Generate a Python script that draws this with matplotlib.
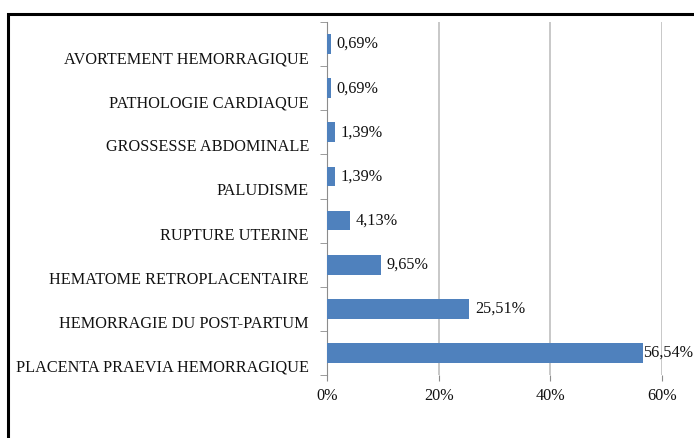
import matplotlib
matplotlib.use("Agg")
import matplotlib.pyplot as plt
import matplotlib.transforms as mtransforms
from matplotlib.patches import Rectangle
import numpy as np

# --- data (top to bottom as drawn) ---------------------------------------
causes = [
    "AVORTEMENT HEMORRAGIQUE",
    "PATHOLOGIE CARDIAQUE",
    "GROSSESSE ABDOMINALE",
    "PALUDISME",
    "RUPTURE UTERINE",
    "HEMATOME RETROPLACENTAIRE",
    "HEMORRAGIE DU POST-PARTUM",
    "PLACENTA PRAEVIA HEMORRAGIQUE",
]
percent = [0.69, 0.69, 1.39, 1.39, 4.13, 9.65, 25.51, 56.54]
value_labels = ["0,69%", "0,69%", "1,39%", "1,39%", "4,13%", "9,65%", "25,51%", "56,54%"]
x_ticks = [0, 20, 40, 60]
x_ticklabels = ["0%", "20%", "40%", "60%"]

BAR_COLOR = "#4F81BD"
GRID_COLOR = "#BFBFBF"
TEXT_COLOR = "#111111"
FS = 11.7

plt.rcParams["font.family"] = ["Liberation Serif", "DejaVu Serif"]

fig = plt.figure(figsize=(6.94, 4.38), dpi=100)
ax = fig.add_axes([327 / 694, 1 - 375 / 438, (662 - 327) / 694, (375 - 22) / 438])

n = len(causes)
y = np.arange(n)  # 0 at top, inverted below
ax.barh(y, percent, height=0.45, color=BAR_COLOR, zorder=3)

for yi, v, lab in zip(y, percent, value_labels):
    pad = 0 if v > 50 else 6   # the long bar's label sits flush against its end
    ax.annotate(lab, (v, yi), xytext=(pad, 0), textcoords="offset pixels",
                va="center", ha="left", fontsize=FS, color=TEXT_COLOR)

ax.set_xlim(0, 60)
ax.set_ylim(n - 0.5, -0.5)
ax.set_xticks(x_ticks)
ax.set_xticklabels(x_ticklabels, fontsize=FS, color=TEXT_COLOR)
ax.xaxis.grid(True, color=GRID_COLOR, lw=1.2, zorder=0)
ax.tick_params(axis="x", length=4, color="#8C8C8C", pad=5)

# category labels at bar centres, boundary tick marks as minor ticks
ax.set_yticks(y)
ax.set_yticklabels(causes, fontsize=FS, color=TEXT_COLOR)
ax.set_yticks(np.arange(n + 1) - 0.5, minor=True)
ax.tick_params(axis="y", which="major", length=0, pad=13)
ax.tick_params(axis="y", which="minor", length=5, color="#8C8C8C")
# labels sit a little below their bars, as in the source chart
shift = mtransforms.ScaledTranslation(0, -13 / 100, fig.dpi_scale_trans)
for t in ax.get_yticklabels():
    t.set_transform(t.get_transform() + shift)

for side in ("top", "right", "bottom"):
    ax.spines[side].set_visible(False)
ax.spines["left"].set_color("#8C8C8C")

# frame around the chart (right and bottom edges fall outside the image)
fig.add_artist(Rectangle((7.5 / 694, -0.1), 1.2, 1.1 - 14 / 438, fill=False,
                         lw=2.2, edgecolor="black", transform=fig.transFigure,
                         clip_on=False))

fig.savefig("out.png", dpi=100)
